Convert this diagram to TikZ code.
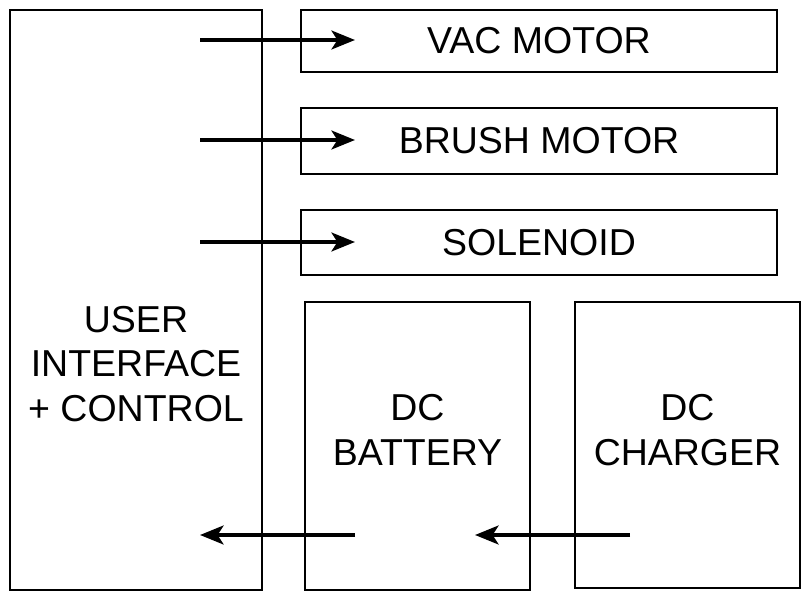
\documentclass[tikz,border=0pt]{standalone}
\usepackage{fontspec}
\setmainfont{Liberation Sans}
\usetikzlibrary{arrows.meta}

\tikzset{
    blk/.style={draw, line width=2pt, inner sep=0pt, align=center},
    txt/.style={align=center, font=\fontsize{32}{38}\selectfont},
    sig/.style={-{Stealth[length=20pt,width=16pt,inset=5pt]}, line width=3.5pt}
}

\begin{document}
\begin{tikzpicture}[x=0.03cm, y=-0.03cm]
    \useasboundingbox (0,0) rectangle (806,596);
    \path (136,300) node [blk, minimum width=252*0.03cm, minimum height=580*0.03cm] (ui) {};
    \path (136,364) node [txt] (uit) {USER\\INTERFACE\\+ CONTROL};
    \path (539,41) node [blk, txt, minimum width=476*0.03cm, minimum height=62*0.03cm] (vac) {VAC MOTOR};
    \path (539,141) node [blk, txt, minimum width=476*0.03cm, minimum height=66*0.03cm] (br) {BRUSH MOTOR};
    \path (539,242.5) node [blk, txt, minimum width=476*0.03cm, minimum height=65*0.03cm] (sol) {SOLENOID};
    \path (417.5,446) node [blk, minimum width=225*0.03cm, minimum height=288*0.03cm] (bat) {};
    \path (417.5,430) node [txt] (batt) {DC\\BATTERY};
    \path (687.5,445) node [blk, minimum width=225*0.03cm, minimum height=286*0.03cm] (chg) {};
    \path (687.5,430) node [txt] (chgt) {DC\\CHARGER};

    % signal taps inside the blocks
    \coordinate (t1) at (200,40);
    \coordinate (t2) at (200,140);
    \coordinate (t3) at (200,242);
    \coordinate (h1) at (355,40);
    \coordinate (h2) at (355,140);
    \coordinate (h3) at (355,242);
    \coordinate (bs) at (355,535);
    \coordinate (be) at (200,535);
    \coordinate (cs) at (630,535);
    \coordinate (ce) at (475,535);

    \draw [sig] (t1) -- (h1);
    \draw [sig] (t2) -- (h2);
    \draw [sig] (t3) -- (h3);
    \draw [sig] (bs) -- (be);
    \draw [sig] (cs) -- (ce);
\end{tikzpicture}
\end{document}
